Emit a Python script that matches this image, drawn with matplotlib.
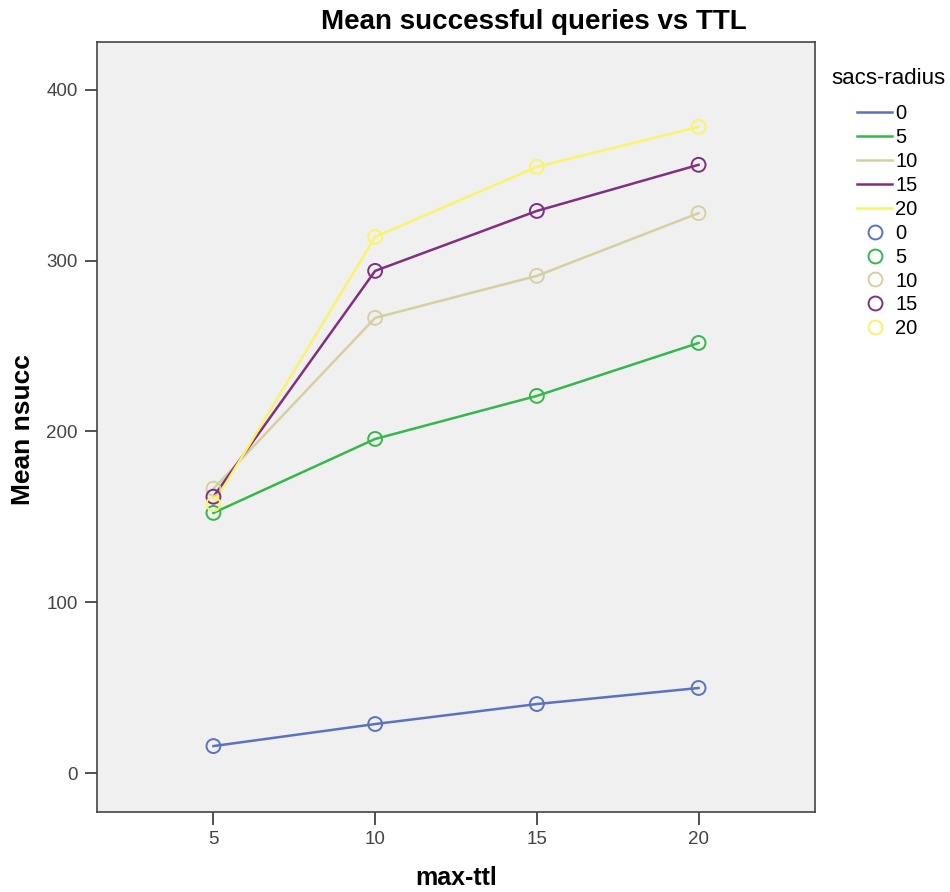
import matplotlib
matplotlib.use("Agg")
import matplotlib.pyplot as plt
from matplotlib.lines import Line2D

plt.rcParams['font.family'] = ['Liberation Sans', 'DejaVu Sans']

max_ttl = [5, 10, 15, 20]
radius_labels = ['0', '5', '10', '15', '20']
nsucc_r0 = [15.8, 28.7, 40.4, 49.8]
nsucc_r5 = [152.3, 195.6, 220.8, 251.8]
nsucc_r10 = [166.5, 266.5, 291.1, 327.8]
nsucc_r15 = [161.8, 294.0, 329.1, 356.1]
nsucc_r20 = [157.5, 313.9, 354.9, 378.3]
series = [nsucc_r0, nsucc_r5, nsucc_r10, nsucc_r15, nsucc_r20]
colors = ['#5a72c2', '#34b84c', '#d6d0a0', '#80307f', '#f8f46c']

fig = plt.figure(figsize=(9.5, 8.92), dpi=100)
ax = fig.add_axes([97/950, 1 - 812/892, (815-97)/950, (812-42)/892])
ax.set_facecolor('#f0f0f0')

for vals, c in zip(series, colors):
    ax.plot(max_ttl, vals, color=c, lw=1.8, zorder=2)
for vals, c in zip(series, colors):
    ax.scatter(max_ttl, vals, s=100, facecolors='none', edgecolors=c, linewidths=1.4, zorder=3)

ax.set_xlim(1.4, 23.6)
ax.set_ylim(-22.8, 428)
ax.set_xticks(max_ttl)
ax.set_yticks([0, 100, 200, 300, 400])
ax.tick_params(length=9, width=1.2, colors='#333333', labelsize=13.5, labelcolor='#444444', pad=5)
for sp in ax.spines.values():
    sp.set_color('#444444')
    sp.set_linewidth(1.2)

# axis labels and title placed in figure pixels
fig.text(456/950, 1 - 878/892, 'max-ttl', fontsize=18, fontweight='bold',
         ha='center', va='center')
fig.text(23/950, 1 - 430/892, 'Mean nsucc', fontsize=19, fontweight='bold',
         ha='center', va='center', rotation=90)
fig.text(534/950, 1 - 22/892, 'Mean successful queries vs TTL', fontsize=20,
         fontweight='bold', ha='center', va='center')

# legend title drawn separately so the gap to the entries matches
fig.text(888/950, 1 - 78/892, 'sacs-radius', fontsize=16, ha='center', va='center')

handles = []
for c, lab in zip(colors, radius_labels):
    handles.append(Line2D([0], [0], color=c, lw=1.8, label=lab))
for c, lab in zip(colors, radius_labels):
    handles.append(Line2D([0], [0], color=c, lw=0, marker='o', markersize=10,
                          markerfacecolor='none', markeredgewidth=1.4, label=lab))
leg = fig.legend(handles=handles, loc='upper left',
                 bbox_to_anchor=(857/950, 1 - 104/892), frameon=False, fontsize=14.5,
                 handlelength=1.75, handletextpad=0.15,
                 labelspacing=0.245, borderpad=0, borderaxespad=0)

fig.savefig('out.png', dpi=100)
